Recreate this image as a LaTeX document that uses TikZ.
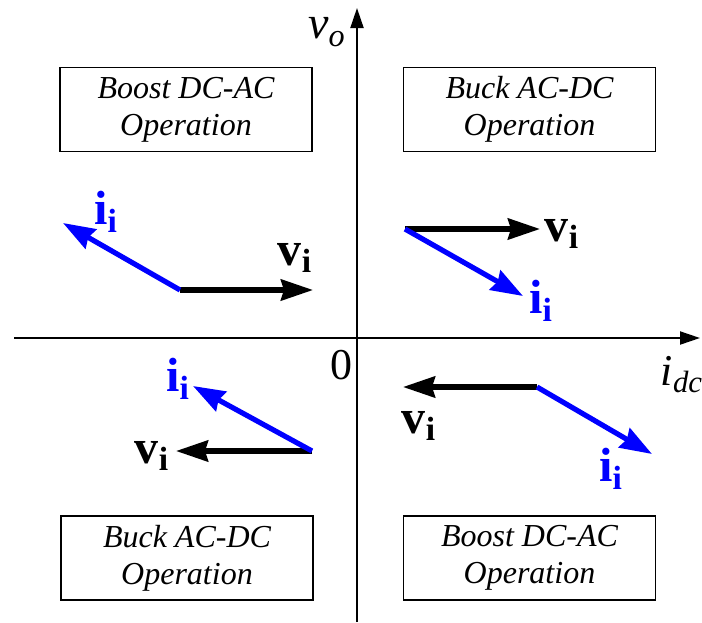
\documentclass[tikz,border=0pt]{standalone}
\usepackage{fontspec}
\setmainfont{Liberation Serif}
\usetikzlibrary{arrows.meta}

\begin{document}
\begin{tikzpicture}[x=0.5pt, y=-0.5pt,
    modebox/.style={draw, line width=0.6pt, minimum width=126pt, minimum height=42pt,
                    align=center, font=\fontsize{16}{18.5}\selectfont\itshape, inner sep=0pt},
    axis/.style={line width=1pt, -{Triangle[length=10pt, width=6.5pt]}},
    vvec/.style={line width=2.6pt, black, -{Stealth[length=16pt, width=10.5pt, inset=1.5pt]}},
    ivec/.style={line width=2.6pt, blue, -{Stealth[length=16pt, width=11pt, inset=1.5pt]}},
    vlab/.style={font=\fontsize{24}{28}\selectfont\bfseries, inner sep=0pt},
    ilab/.style={font=\fontsize{24}{28}\selectfont\bfseries, text=blue, inner sep=0pt}]
\useasboundingbox (0,0) rectangle (702,622);

% Axes
\coordinate (xl) at (14,338);
\coordinate (xr) at (700,338);
\coordinate (yb) at (357,622);
\coordinate (yt) at (357,8);
\draw[axis] (xl) -- (xr);
\draw[axis] (yb) -- (yt);
\node[font=\fontsize{23}{26}\selectfont, inner sep=0pt] (vo) at (327,32) {\textit{v\textsubscript{o}}};
\node[font=\fontsize{22}{26}\selectfont, inner sep=0pt] (idc) at (682,375) {\textit{i\textsubscript{dc}}};
\node[font=\fontsize{22}{26}\selectfont, inner sep=0pt] (zero) at (341,365) {0};

% Operation boxes
\node[modebox] (boxtl) at (186,109.5) {Boost DC-AC\\Operation};
\node[modebox] (boxtr) at (529.5,109.5) {Buck AC-DC\\Operation};
\node[modebox] (boxbl) at (187,558) {Buck AC-DC\\Operation};
\node[modebox] (boxbr) at (529.5,558) {Boost DC-AC\\Operation};

% Second quadrant
\coordinate (otl) at (180,290);
\coordinate (vtl) at (313,290);
\coordinate (itl) at (63,223);
\draw[vvec] (otl) -- (vtl);
\draw[ivec] (otl) -- (itl);
\node[vlab] (vltl) at (295,258) {v\textsubscript{i}};
\node[ilab] (iltl) at (106,212) {i\textsubscript{i}};

% First quadrant
\coordinate (otr) at (405,229);
\coordinate (vtr) at (540,229);
\coordinate (itr) at (523,296);
\draw[vvec] (otr) -- (vtr);
\draw[ivec] (otr) -- (itr);
\node[vlab] (vltr) at (562,234) {v\textsubscript{i}};
\node[ilab] (iltr) at (541,301) {i\textsubscript{i}};

% Third quadrant
\coordinate (obl) at (312,451);
\coordinate (vbl) at (176,451);
\coordinate (ibl) at (193,386);
\draw[vvec] (obl) -- (vbl);
\draw[ivec] (obl) -- (ibl);
\node[vlab] (vlbl) at (152,456) {v\textsubscript{i}};
\node[ilab] (ilbl) at (178,379) {i\textsubscript{i}};

% Fourth quadrant
\coordinate (obr) at (537,387);
\coordinate (vbr) at (403,387);
\coordinate (ibr) at (652,454);
\draw[vvec] (obr) -- (vbr);
\draw[ivec] (obr) -- (ibr);
\node[vlab] (vlbr) at (419,426) {v\textsubscript{i}};
\node[ilab] (ilbr) at (611,469) {i\textsubscript{i}};

\end{tikzpicture}
\end{document}
